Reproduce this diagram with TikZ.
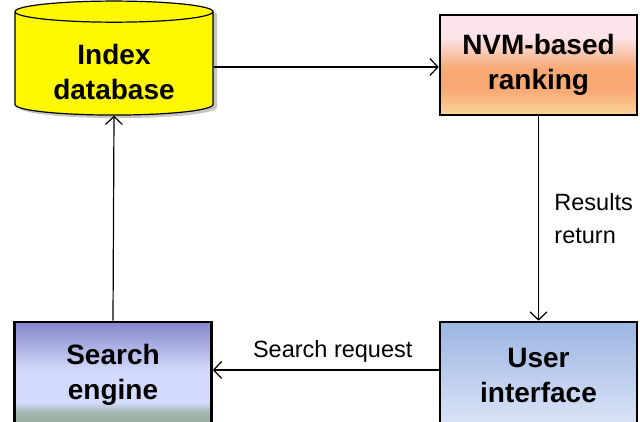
\documentclass[tikz,border=0pt]{standalone}
\usepackage{fontspec}
\setmainfont{Liberation Sans}
\usetikzlibrary{shapes.geometric,arrows.meta,shadows}

\definecolor{dbyellow}{RGB}{255,248,0}
\definecolor{nvmtop}{RGB}{253,228,234}
\definecolor{nvmmid}{RGB}{248,168,115}
\definecolor{nvmbot}{RGB}{251,212,155}
\definecolor{setop}{RGB}{132,134,202}
\definecolor{semid}{RGB}{212,218,252}
\definecolor{segreen}{RGB}{140,165,142}
\definecolor{uitop}{RGB}{156,182,226}
\definecolor{uibot}{RGB}{220,229,248}

% 25bp = bottom edge, 75bp = top edge of the box
\pgfdeclareverticalshading{nvmshade}{100bp}{color(0bp)=(nvmbot); color(25bp)=(nvmbot);
  color(38bp)=(nvmmid); color(48bp)=(nvmmid); color(64bp)=(nvmtop); color(75bp)=(nvmtop); color(100bp)=(nvmtop)}
\pgfdeclareverticalshading{seshade}{100bp}{color(0bp)=(segreen); color(25bp)=(segreen);
  color(33bp)=(segreen!60!semid); color(37bp)=(semid); color(52bp)=(semid); color(75bp)=(setop); color(100bp)=(setop)}

\tikzset{
  bigtext/.style={align=center,font=\bfseries\fontsize{28}{35}\selectfont},
  block/.style={draw=black,line width=2.6pt,minimum width=197pt,bigtext},
  tag/.style={font=\fontsize{23.5}{33}\selectfont}
}

\begin{document}
\begin{tikzpicture}[x=1pt,y=-1pt,>={Straight Barb[length=8pt,width=17pt]},line width=1.2pt]
        \useasboundingbox (0,0) rectangle (640,421);
        \node[cylinder,shape border rotate=90,draw,line width=1.2pt,aspect=0.165,
              minimum width=198pt,minimum height=114pt,fill=dbyellow,bigtext,
              drop shadow={shadow xshift=4pt,shadow yshift=-3pt,fill=black!45}] (db) at (114,65) {\phantom{Index}\\\phantom{database}};
        \node[bigtext] (dbtext) at ([yshift=-7pt]db.center) {Index\\database};
        \node[block,minimum height=100pt,shading=nvmshade] (nvm) at (538.5,65) {NVM-based\\ranking};
        \node[block,minimum height=106pt,shading=seshade] (se) at (113,375) {Search\\engine};
        \node[block,minimum height=106pt,top color=uitop,bottom color=uibot] (ui) at (538.5,375) {User\\interface};
        \draw[->] (db.east |- 0,67) -- (nvm.west |- 0,67);
        \draw[->] (nvm) -- (ui) node[pos=0.5,right=12pt,tag,align=left] (ret) {Results\\return};
        \draw[->] (ui.west |- 0,370) -- (se.east |- 0,370) node[pos=0.5,above=4pt,xshift=7pt,tag] (req) {Search request};
        \draw[->] (se.north) -- (db.bottom);
        \end{tikzpicture}
\end{document}
